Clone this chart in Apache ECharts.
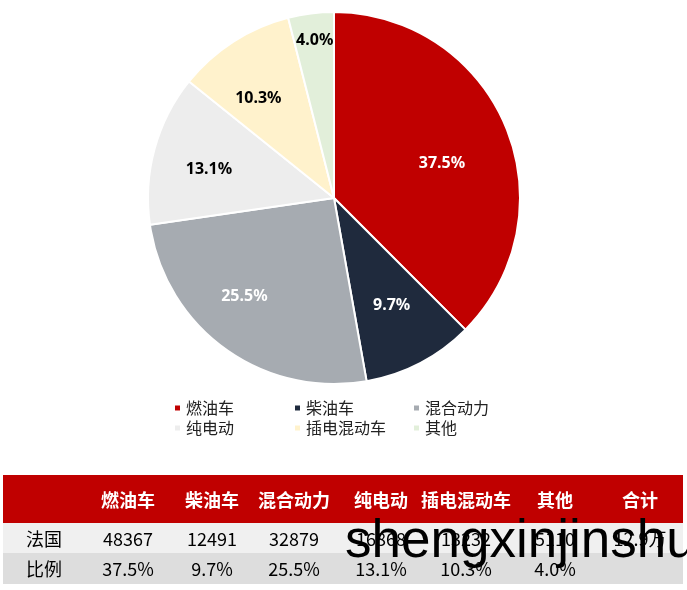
<!DOCTYPE html>
<html><head><meta charset="utf-8">
<script src="https://cdn.jsdelivr.net/npm/echarts@6/dist/echarts.min.js"></script>
<style>html,body{margin:0;padding:0;background:#fff}#c{width:687px;height:590px}</style>
</head><body><div id="c"></div>
<script>
// ---- data ----
const categories = ['燃油车', '柴油车', '混合动力', '纯电动', '插电混动车', '其他'];
const values = [48367, 12491, 32879, 16868, 13232, 5110];
const shares = ['37.5%', '9.7%', '25.5%', '13.1%', '10.3%', '4.0%'];
const totalLabel = '合计';
const totalValue = '12.9万';
const rowNames = ['法国', '比例'];
const watermark = 'shengxinjinshu';

// ---- style ----
const colors = ['#C00000', '#1F2A3D', '#A6ABB1', '#EDEDED', '#FFF2CC', '#E2EFDA'];
const labelColors = ['#fff', '#fff', '#fff', '#000', '#000', '#000'];
const labelScale = [1.24, 1.3, 1.4, 1.35, 1.4, 1.7];
const labelShift = [[-2, 11], [0, -3], [-11, -11], [0, 6], [-3, 13], [1, 4]];
const CX = 334, CY = 198, R = 186;
const FONT = '"Noto Sans CJK SC", "Noto Sans", sans-serif';

const chart = echarts.init(document.getElementById('c'), null, {renderer: 'canvas'});

const legendPos = [[173, 400], [293, 400], [412, 400], [173, 420], [293, 420], [412, 420]];
const legends = categories.map((n, i) => ({
  data: [n], left: legendPos[i][0], top: legendPos[i][1], padding: 0,
  itemWidth: 7, itemHeight: 7, icon: 'rect', selectedMode: false,
  textStyle: {fontSize: 16, lineHeight: 16, color: '#222', fontFamily: FONT}
}));

// table graphics
const colX = [128, 212, 294, 381, 466, 555, 640];
const header = categories.concat([totalLabel]);
const row1 = values.map(String).concat([totalValue]);
const row2 = shares.slice();
const g = [];
g.push({type: 'rect', shape: {x: 3, y: 475, width: 680, height: 48}, style: {fill: '#C00000'}});
g.push({type: 'rect', shape: {x: 3, y: 523, width: 680, height: 30}, style: {fill: '#F0F0F0'}});
g.push({type: 'rect', shape: {x: 3, y: 553, width: 680, height: 31}, style: {fill: '#DDDDDD'}});
header.forEach((t, i) => g.push({type: 'text', x: colX[i], y: 500, style: {text: t, fill: '#fff', font: 'bold 18px ' + FONT, align: 'center', verticalAlign: 'middle'}}));
[row1, row2].forEach((row, r) => {
  const y = r === 0 ? 539 : 569;
  g.push({type: 'text', x: 44, y: y, style: {text: rowNames[r], fill: '#000', font: '18px ' + FONT, align: 'center', verticalAlign: 'middle'}});
  row.forEach((t, i) => g.push({type: 'text', x: colX[i], y: y, style: {text: t, fill: '#000', font: '18px ' + FONT, align: 'center', verticalAlign: 'middle'}}));
});
g.push({type: 'text', x: 345, y: 516, z: 100, style: {text: watermark, fill: '#000', font: '53px "Liberation Sans", Arial, sans-serif', align: 'left', verticalAlign: 'top'}});

chart.setOption({
  animation: false,
  color: colors,
  legend: legends,
  series: [{
    type: 'pie', center: [CX, CY], radius: [0, R], startAngle: 90, clockwise: true,
    itemStyle: {borderColor: '#fff', borderWidth: 2},
    label: {show: true, position: 'inside', fontSize: 16, fontWeight: 'bold', fontFamily: '"Noto Sans", sans-serif',
      formatter: p => shares[p.dataIndex]},
    labelLine: {show: false},
    emphasis: {disabled: true},
    labelLayout: function (p) {
      const r = p.labelRect;
      const cx = r.x + r.width / 2, cy = r.y + r.height / 2;
      const f = labelScale[p.dataIndex];
      const s = labelShift[p.dataIndex];
      return {dx: (cx - CX) * (f - 1) + s[0], dy: (cy - CY) * (f - 1) + s[1]};
    },
    data: categories.map((n, i) => ({name: n, value: values[i], label: {color: labelColors[i]}}))
  }],
  graphic: g
});
</script></body></html>
